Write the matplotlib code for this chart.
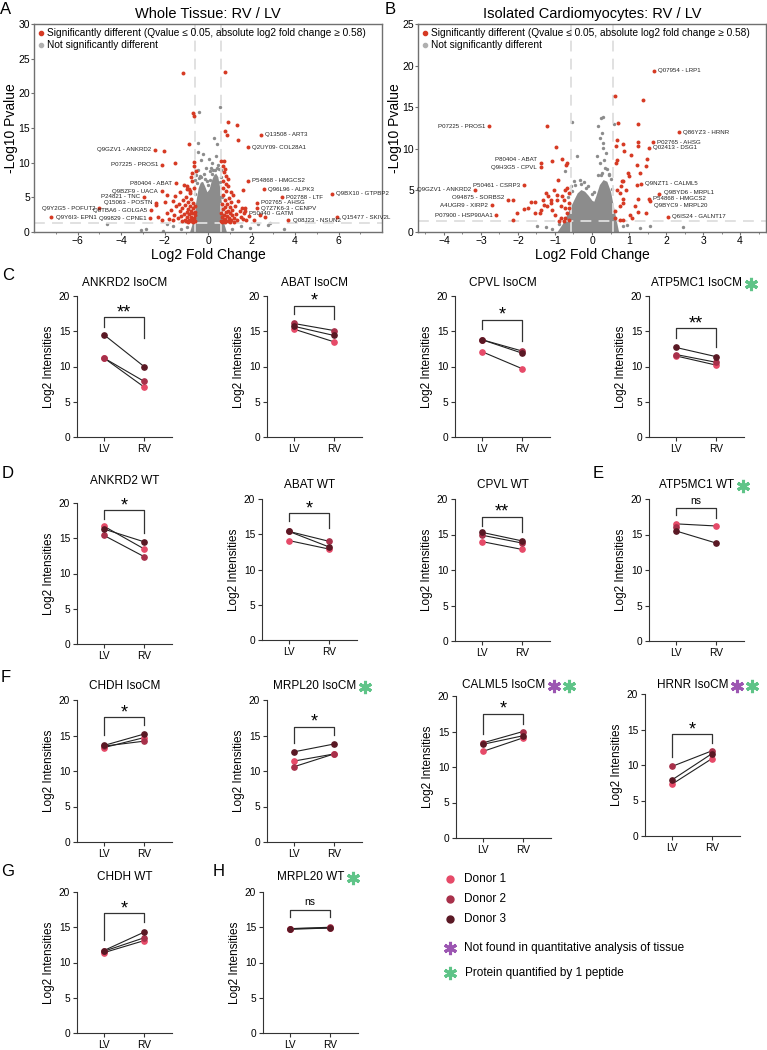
import matplotlib
matplotlib.use("Agg")
import matplotlib.pyplot as plt
from matplotlib.lines import Line2D
import numpy as np

plt.rcParams['font.family'] = ['Liberation Sans', 'DejaVu Sans']

# ---------------- volcano A: whole tissue ----------------
a_core_x = [-0.85, -0.75, -0.65, -0.55, -0.45, -0.35, -0.25, -0.15, -0.05, 0.05, 0.15, 0.25, 0.35, 0.45, 0.55, 0.65, 0.75, 0.85]
a_core_y = [0.0, 1.0, 2.6, 4.6, 6.4, 7.2, 7.3, 6.6, 5.8, 6.2, 7.4, 8.2, 8.5, 8.0, 6.2, 3.2, 1.0, 0.0]
a_gray_x = [-0.4, 0.54, -0.45, 0.28, 0.4, -0.48, 0.05, -0.25, -0.3, 0.2, 0.35, -0.1, 0.45, -0.45, 0.1,
            -0.6, 0.58, -2.86, -3.1, -4.65, -1.26, 1.94, 2.3, 2.86, 2.74, -2.06, -1.6, 1.5, -0.95, 1.1,
            -1.9, 3.5, -0.55, 0.62, -0.35, 0.15, -0.2, 0.5,
            -0.5, -0.3, -0.15, 0.0, 0.1, 0.25, 0.4, 0.55, -0.6, 0.65, -0.05, 0.3, -0.4, 0.2]
a_gray_y = [17.3, 18.0, 12.8, 13.6, 12.7, 11.5, 10.5, 11.2, 10.4, 10.0, 11.0, 9.3, 9.6, 9.0, 8.8,
            7.5, 7.9, 0.5, 0.25, 1.2, 0.4, 0.6, 1.2, 1.35, 1.0, 0.15, 0.8, 0.9, 0.7, 0.5,
            1.1, 0.4, 8.2, 8.9, 8.1, 9.2, 8.4, 9.1,
            7.0, 8.0, 7.6, 6.8, 7.5, 9.0, 9.3, 7.2, 5.5, 5.0, 7.3, 8.9, 7.8, 8.3]
a_red_x = [-1.14, 0.8, -0.7, -0.65, 0.92, 1.32, 0.8, 0.87, 1.38, -0.88, -2.03, -1.5, -0.66, -0.63, -0.54,
           -0.74, -0.78, -0.72, 0.6, 0.72, 0.69, 0.8, 0.74, 0.84, 0.91, 0.71, 0.81, -0.95, -0.88, -0.84,
           -1.7, -1.6, -1.55, -1.5, -1.45, -1.4, -1.35, -1.3, -1.28, -1.25, -1.2, -1.15, -1.1, -1.08, -1.05,
           -1.0, -0.98, -0.95, -0.92, -0.9, -0.88, -0.86, -0.84, -0.82, -0.8, -0.78, -0.76, -0.74, -0.72, -0.7,
           -0.68, -0.66, -0.64, -0.62, -0.6, -0.6, -0.58, -0.9, -1.0, -0.7, -0.8, -1.2, -1.9, -1.8, -2.0,
           -2.3, -2.1, -1.9, -2.4, -1.6, -1.1, -0.95,
           0.6, 0.62, 0.64, 0.66, 0.68, 0.7, 0.72, 0.74, 0.76, 0.78, 0.8, 0.82, 0.84, 0.86, 0.88,
           0.9, 0.92, 0.95, 0.98, 1.0, 1.02, 1.05, 1.08, 1.1, 1.12, 1.15, 1.2, 1.25, 1.3, 1.35,
           1.4, 1.45, 1.5, 1.55, 1.6, 1.65, 1.7, 1.75, 1.9, 0.7, 0.9, 1.05, 0.65, 0.8, 1.2,
           1.0, 2.6, 2.1, 2.4, 1.6]
a_red_y = [23.0, 23.1, 17.2, 16.7, 15.8, 15.4, 14.6, 14.0, 13.2, 12.7, 11.7, 10.0, 10.1, 9.5, 8.8,
           8.5, 7.9, 7.4, 10.3, 10.2, 9.5, 9.1, 8.7, 8.1, 7.6, 7.4, 6.9, 6.6, 6.2, 5.9,
           3.2, 4.5, 2.5, 5.2, 3.8, 2.0, 4.1, 3.0, 5.8, 2.3, 3.5, 4.6, 2.6, 1.8, 3.9,
           5.0, 2.9, 2.1, 4.3, 3.3, 1.7, 2.6, 5.6, 3.8, 2.2, 4.8, 3.0, 1.9, 2.7, 4.2,
           3.4, 2.0, 6.3, 2.9, 1.6, 3.7, 2.4, 1.5, 1.6, 1.5, 1.6, 1.6, 2.8, 1.9, 4.3,
           2.2, 1.8, 5.3, 3.9, 1.7, 6.8, 6.2,
           1.6, 2.8, 4.1, 2.1, 5.4, 3.3, 1.7, 2.5, 4.6, 3.6, 1.9, 2.9, 5.9, 2.3, 4.0,
           1.6, 3.1, 2.0, 4.9, 2.7, 3.6, 1.8, 4.3, 2.4, 3.2, 5.3, 2.0, 3.7, 2.6, 1.7,
           4.4, 3.0, 2.2, 3.5, 1.9, 2.8, 3.4, 1.7, 2.3, 6.3, 6.6, 5.8, 1.5, 1.5, 1.5,
           1.5, 2.1, 1.8, 2.5, 6.0]
a_lab_name = ["Q13508 - ART3", "Q2UY09- COL28A1", "Q9GZV1 - ANKRD2", "P07225 - PROS1", "P54868 - HMGCS2",
              "P80404 - ABAT", "Q96L96 - ALPK3", "Q9BZF9 - UACA", "Q9BX10 - GTPBP2", "P24821 - TNC",
              "P02788 - LTF", "Q15063 - POSTN", "P02765 - AHSG", "Q9Y2G5 - POFUT2", "Q7Z7K6-3 - CENPV",
              "Q8TBA6 - GOLGA5", "P50440 - GATM", "Q9Y6I3- EPN1", "Q99829 - CPNE1", "Q08J23 - NSUN2",
              "Q15477 - SKIV2L"]
a_lab_x = [2.42, 1.82, -2.43, -2.1, 1.82, -1.46, 2.58, -2.12, 5.7, -2.95,
           3.38, -2.37, 2.25, -5.0, 2.25, -2.6, 1.7, -7.2, -2.65, 3.7, 5.95]
a_lab_y = [14.0, 12.2, 11.85, 9.7, 7.4, 7.0, 6.2, 5.85, 5.5, 5.1,
           5.0, 4.2, 4.2, 3.4, 3.45, 3.15, 3.0, 2.1, 1.95, 1.7, 2.1]
a_lab_side = ["r", "r", "l", "l", "r", "l", "r", "l", "r", "l",
              "r", "l", "r", "l", "r", "l", "r", "r", "l", "r", "r"]
a_lab_dy = [0, 0, 0, 0, 0, 0, 0, 0, 0, 0, 0, 0, 0, 0, 0, 0, -0.4, 0, 0, 0, 0]

# ---------------- volcano B: isolated cardiomyocytes ----------------
b_core_x = [-0.95, -0.8, -0.65, -0.5, -0.4, -0.3, -0.2, -0.1, 0.0, 0.05, 0.1, 0.2, 0.3, 0.4, 0.5, 0.6, 0.72]
b_core_y = [0.0, 1.0, 2.4, 3.8, 4.7, 5.1, 4.9, 4.4, 3.8, 3.7, 4.3, 5.7, 6.3, 6.1, 4.9, 2.6, 0.0]
b_gray_x = [-0.54, 0.24, 0.31, 0.17, 0.27, 0.22, 0.3, 0.31, 0.13, 0.21, 0.33, 0.36, 0.27, -0.72, -0.4,
            -0.33, -0.49, -0.22, -0.12, -0.58, -1.48, 2.47, 1.57, 0.85, -1.08, 0.45, 0.4, 0.15, -0.45, -0.3,
            0.5, -0.65, 0.55, -0.9, 0.95, 1.3, -1.25, 0.05, 0.38, 0.6, -0.15, 0.0, 0.25, -0.55, 0.45]
b_gray_y = [13.2, 13.7, 13.8, 12.7, 11.9, 11.3, 10.7, 10.1, 9.1, 8.3, 8.7, 7.7, 7.1, 7.3, 9.1,
            6.3, 6.1, 6.0, 5.5, 5.5, 0.7, 0.6, 0.7, 0.7, 0.4, 7.0, 7.6, 6.8, 5.6, 5.8,
            6.4, 4.2, 5.2, 1.0, 0.9, 0.5, 0.6, 4.8, 9.5, 13.0, 5.3, 4.6, 6.9, 4.9, 6.8]
b_red_x = [0.63, 1.39, -1.21, 0.7, 1.23, -0.98, 0.67, 1.25, 0.84, 0.65, 1.24, 0.87, 1.04, -1.07, -0.8,
           -0.68, -0.71, 1.21, 1.48, 1.46, 1.3, 0.96, 1.01, 0.67, 0.65, 0.8, 0.85, 1.21, 0.78, 0.93,
           0.67, 0.75, 0.85, 0.84, 1.25, 1.16, 0.76, 1.23, 1.02, 1.09, 0.85, 1.47, 0.63, 0.63, 0.76,
           -0.92, -0.72, -0.63, -0.67, -1.03, -1.24, -1.19, -1.32, -1.66, -1.53, -1.84, -2.13, -2.02, -2.14, -1.39,
           -1.41, -1.21, -1.08, -0.94, -0.85, -0.76, -0.67, -0.72, -0.85, -0.99, -0.94, -0.81, -0.63, -0.62, -0.72,
           -1.12, -1.3, -0.63, -0.76, -0.9, -1.53, -1.73, -1.12]
b_red_y = [16.3, 15.9, 12.8, 13.1, 13.0, 10.2, 11.0, 10.8, 10.6, 10.3, 10.3, 9.7, 9.3, 8.5, 8.8,
           8.3, 8.0, 8.0, 8.8, 7.9, 7.1, 7.1, 6.7, 8.7, 8.3, 6.1, 6.1, 5.7, 5.5, 5.0,
           5.0, 4.7, 4.0, 3.5, 4.0, 3.1, 3.1, 2.4, 2.0, 1.7, 1.5, 2.3, 1.7, 2.5, 1.5,
           6.3, 5.1, 4.7, 5.3, 5.1, 4.7, 4.3, 3.9, 3.6, 3.6, 2.8, 3.8, 2.3, 1.4, 2.7,
           2.3, 3.1, 2.7, 3.9, 3.1, 3.9, 2.3, 1.7, 1.7, 2.1, 4.5, 4.3, 3.5, 2.9, 2.9,
           3.5, 3.3, 1.5, 1.3, 1.3, 2.3, 2.9, 3.9]
b_lab_name = ["Q07954 - LRP1", "P07225 - PROS1", "Q86YZ3 - HRNR", "P02765 - AHSG", "Q02413 - DSG1",
              "P80404 - ABAT", "Q9H3G5 - CPVL", "Q9NZT1 - CALML5", "P50461 - CSRP3", "Q9GZV1 - ANKRD2",
              "Q9BYD6 - MRPL1", "O94875 - SORBS2", "P54868 - HMGCS2", "Q9BYC9 - MRPL20", "A4UGR9 - XIRP2",
              "P07900 - HSP90AA1", "Q6IS24 - GALNT17"]
b_lab_x = [1.68, -2.78, 2.34, 1.64, 1.53, -1.37, -1.38, 1.32, -1.83, -3.15,
           1.82, -2.27, 1.53, 1.56, -2.69, -2.58, 2.05]
b_lab_y = [19.4, 12.7, 12.0, 10.8, 10.1, 8.3, 7.8, 5.8, 5.6, 5.1,
           4.6, 3.9, 4.0, 3.7, 3.2, 2.0, 1.85]
b_lab_side = ["r", "l", "r", "r", "r", "l", "l", "r", "l", "l",
              "r", "l", "r", "r", "l", "l", "r"]
b_lab_dy = [0, 0, 0, 0, 0, 0.4, 0, 0, 0, 0, 0.1, 0.3, 0, -0.5, 0, 0, 0]

# ---------------- paired donor plots ----------------
titles = ["ANKRD2 IsoCM", "ABAT IsoCM", "CPVL IsoCM", "ATP5MC1 IsoCM",
          "ANKRD2 WT", "ABAT WT", "CPVL WT", "ATP5MC1 WT",
          "CHDH IsoCM", "MRPL20 IsoCM", "CALML5 IsoCM", "HRNR IsoCM",
          "CHDH WT", "MRPL20 WT"]
lv_donor1 = [11.2, 15.3, 12.1, 11.5, 16.7, 14.1, 14.0, 16.5, 13.3, 11.4, 12.2, 7.3, 11.4, 14.7]
lv_donor2 = [11.2, 16.1, 13.8, 11.7, 15.4, 15.4, 14.9, 16.1, 13.5, 10.6, 13.4, 9.8, 11.6, 14.8]
lv_donor3 = [14.5, 15.7, 13.8, 12.7, 16.3, 15.4, 15.3, 15.5, 13.6, 12.7, 13.2, 7.9, 11.7, 14.8]
rv_donor1 = [7.1, 13.5, 9.7, 10.2, 13.5, 12.9, 12.9, 16.2, 14.7, 12.4, 14.1, 10.9, 13.1, 14.9]
rv_donor2 = [7.9, 15.1, 12.2, 10.6, 12.4, 14.0, 13.8, np.nan, 14.2, 12.4, 15.0, 12.0, 13.5, 15.0]
rv_donor3 = [10.0, 14.4, 11.9, 11.4, 14.5, 13.2, 14.1, 13.8, 15.2, 13.8, 14.4, 11.6, 14.3, 14.9]
significance = ["**", "*", "*", "**", "*", "*", "**", "ns", "*", "*", "*", "*", "*", "ns"]
flags = ["", "", "", "g", "", "", "", "g", "", "g", "pg", "pg", "", "g"]
# bracket (top, left leg end, right leg end)
bracket = [(17.0, 15.6, 14.1), (18.6, 17.4, 16.8), (16.6, 15.3, 13.6), (15.4, 14.1, 12.8),
           (19.0, 17.7, 15.7), (18.0, 16.9, 15.9), (17.5, 16.2, 15.4), (18.7, 17.7, 17.3),
           (17.6, 15.1, 16.5), (16.2, 13.9, 15.1), (17.5, 14.6, 16.0), (14.3, 11.1, 13.1),
           (17.0, 13.2, 15.8), (17.5, 16.4, 16.4)]

donor_colors = ['#e64a68', '#a8304a', '#5a1824']
donor_names = ['Donor 1', 'Donor 2', 'Donor 3']
red = '#d63a24'
gray = '#8c8c8c'
green = '#5fc488'
purple = '#9c56b2'

W, H = 767, 1050
fig = plt.figure(figsize=(W / 100, H / 100), dpi=100)


def box(left, top, right, bottom):
    return [left / W, 1 - bottom / H, (right - left) / W, (bottom - top) / H]


def fx(x):
    return x / W


def fy(y):
    return 1 - y / H


def volcano(rect, title, core_x, core_y, gx, gy, rx, ry, names, lx, ly, side, dy, xlim, ylim, xt, yt, minor):
    ax = fig.add_axes(rect)
    ax.fill_between(core_x, 0, core_y, color=gray, lw=0, zorder=1)
    ax.scatter(gx, gy, s=6, color=gray, lw=0, zorder=2)
    for v in (-0.58, 0.58):
        ax.axvline(v, color='#dedede', lw=1.3, ls=(0, (6, 4)), zorder=2.5)
    ax.axhline(1.3, color='#dedede', lw=1.3, ls=(0, (6, 4)), zorder=2.5)
    ax.scatter(rx, ry, s=8, color=red, lw=0, zorder=3)
    ax.scatter(lx, ly, s=8, color=red, lw=0, zorder=3)
    for n, x, y, s, d in zip(names, lx, ly, side, dy):
        off = 3 if s == 'r' else -3
        ax.annotate(n, (x, y + d), xytext=(off, 0), textcoords='offset points',
                    ha='left' if s == 'r' else 'right', va='center', fontsize=4.4,
                    family=['Liberation Sans Narrow', 'Liberation Sans'], color='#222222')
    ax.set_xlim(xlim)
    ax.set_ylim(ylim)
    ax.set_xticks(xt)
    ax.set_yticks(yt)
    ax.set_xticks(minor, minor=True)
    for sp in ax.spines.values():
        sp.set_color('#707070')
        sp.set_linewidth(1.0)
    ax.tick_params(labelsize=7.5, length=2, width=0.8, color='#707070', pad=1)
    ax.tick_params(which='minor', length=1.5, width=0.6, color='#707070')
    ax.set_xlabel('Log2 Fold Change', fontsize=10, labelpad=1)
    ax.set_ylabel('-Log10 Pvalue', fontsize=10)
    ax.yaxis.set_label_coords(-0.047, 0.5)
    ax.set_title(title, fontsize=10.5, pad=4)
    h = [Line2D([], [], ls='', marker='o', ms=3, color=red),
         Line2D([], [], ls='', marker='o', ms=3, color='#b0b0b0')]
    ax.legend(h, ['Significantly different (Qvalue \u2264 0.05, absolute log2 fold change \u2265 0.58)',
                  'Not significantly different'],
              loc='upper left', frameon=False, fontsize=7.3, handlelength=0.6, handletextpad=0.3,
              labelspacing=0.2, borderaxespad=0.2, borderpad=0.2)
    return ax


volcano(box(34, 24, 382, 232), 'Whole Tissue: RV / LV', a_core_x, a_core_y, a_gray_x, a_gray_y,
        a_red_x, a_red_y, a_lab_name, a_lab_x, a_lab_y, a_lab_side, a_lab_dy,
        (-8, 8), (0, 30), [-6, -4, -2, 0, 2, 4, 6], range(0, 31, 5), np.arange(-7, 8, 1))
volcano(box(418, 24, 766, 232), 'Isolated Cardiomyocytes: RV / LV', b_core_x, b_core_y, b_gray_x, b_gray_y,
        b_red_x, b_red_y, b_lab_name, b_lab_x, b_lab_y, b_lab_side, b_lab_dy,
        (-4.7, 4.7), (0, 25), [-4, -3, -2, -1, 0, 1, 2, 3, 4], range(0, 26, 5), np.arange(-4.5, 4.6, 0.5))

# layout of paired panels in pixels
ax_left = [77, 267, 455, 649, 77, 262, 455, 649, 77, 267, 456, 645, 77, 263]
ax_top = [296, 296, 296, 296, 503, 499, 499, 499, 700, 700, 696, 694, 892, 892]
ax_bottom = [437, 437, 437, 437, 644, 640, 641, 641, 842, 842, 838, 836, 1033, 1033]
title_y = [283, 283, 283, 283, 481, 485, 485, 485, 686, 686, 685, 685, 877, 877]

title_texts = []
for i, t in enumerate(titles):
    ax = fig.add_axes(box(ax_left[i], ax_top[i], ax_left[i] + 95, ax_bottom[i]))
    lv = [lv_donor1[i], lv_donor2[i], lv_donor3[i]]
    rv = [rv_donor1[i], rv_donor2[i], rv_donor3[i]]
    for k in range(3):
        if not np.isnan(rv[k]):
            ax.plot([0, 1], [lv[k], rv[k]], color='#222222', lw=0.8, zorder=2, clip_on=False)
    for k in range(3):
        ax.plot([0, 1], [lv[k], rv[k]], ls='', marker='o', ms=3.8, color=donor_colors[k],
                zorder=3, clip_on=False)
    top, l_end, r_end = bracket[i]
    ax.plot([0, 0, 1, 1], [l_end, top, top, r_end], color='#333333', lw=0.9, clip_on=False)
    if significance[i] == 'ns':
        ax.annotate('ns', (0.5, top), xytext=(0, 3), textcoords='offset points',
                    ha='center', va='baseline', fontsize=7.5, annotation_clip=False)
    else:
        ax.annotate(significance[i], (0.5, top), xytext=(0, 0), textcoords='offset points',
                    ha='center', va='baseline', fontsize=13, annotation_clip=False)
    ax.set_xlim(-0.675, 1.7)
    ax.set_ylim(0, 20)
    ax.set_xticks([0, 1])
    ax.set_xticklabels(['LV', 'RV'])
    ax.set_yticks([0, 5, 10, 15, 20])
    ax.spines['top'].set_visible(False)
    ax.spines['right'].set_visible(False)
    for s in ('left', 'bottom'):
        ax.spines[s].set_color('#333333')
        ax.spines[s].set_linewidth(0.8)
    ax.tick_params(labelsize=7.3, length=3, width=0.8, color='#333333', pad=2)
    ax.set_ylabel('Log2 Intensities', fontsize=8.5, labelpad=3)
    cx = ax_left[i] + 47.5
    title_texts.append(fig.text(fx(cx), fy(title_y[i]), t, ha='center', va='center', fontsize=8.5))

# flag asterisks after titles
fig.canvas.draw()
for i, t in enumerate(title_texts):
    if not flags[i]:
        continue
    bb = t.get_window_extent()
    x = bb.x1 + 9
    for f in flags[i]:
        c = green if f == 'g' else purple
        fig.add_artist(Line2D([fx(x)], [fy(title_y[i] + 1)], transform=fig.transFigure, ls='',
                              marker=(6, 2, 0), ms=9.5, mew=2.2, color=c))
        x += 15

# panel letters
for lab, x, y in [('A', 6, 9), ('B', 390, 9), ('C', 8, 275), ('D', 8, 473), ('E', 598, 473),
                  ('F', 6, 677), ('G', 8, 871), ('H', 219, 871)]:
    fig.text(fx(x), fy(y), lab, ha='center', va='center', fontsize=12)

# legend bottom right
for k in range(3):
    fig.add_artist(Line2D([fx(450)], [fy(879 + 20 * k)], transform=fig.transFigure, ls='',
                          marker='o', ms=5, color=donor_colors[k]))
    fig.text(fx(464), fy(879 + 20 * k), donor_names[k], va='center', fontsize=8.5)
fig.add_artist(Line2D([fx(450)], [fy(948)], transform=fig.transFigure, ls='',
                      marker=(6, 2, 0), ms=9.5, mew=2.2, color=purple))
fig.text(fx(464), fy(948), 'Not found in quantitative analysis of tissue', va='center', fontsize=8.5)
fig.add_artist(Line2D([fx(450)], [fy(973)], transform=fig.transFigure, ls='',
                      marker=(6, 2, 0), ms=9.5, mew=2.2, color=green))
fig.text(fx(465), fy(973), 'Protein quantified by 1 peptide', va='center', fontsize=8.5)

fig.savefig('out.png', dpi=100)
